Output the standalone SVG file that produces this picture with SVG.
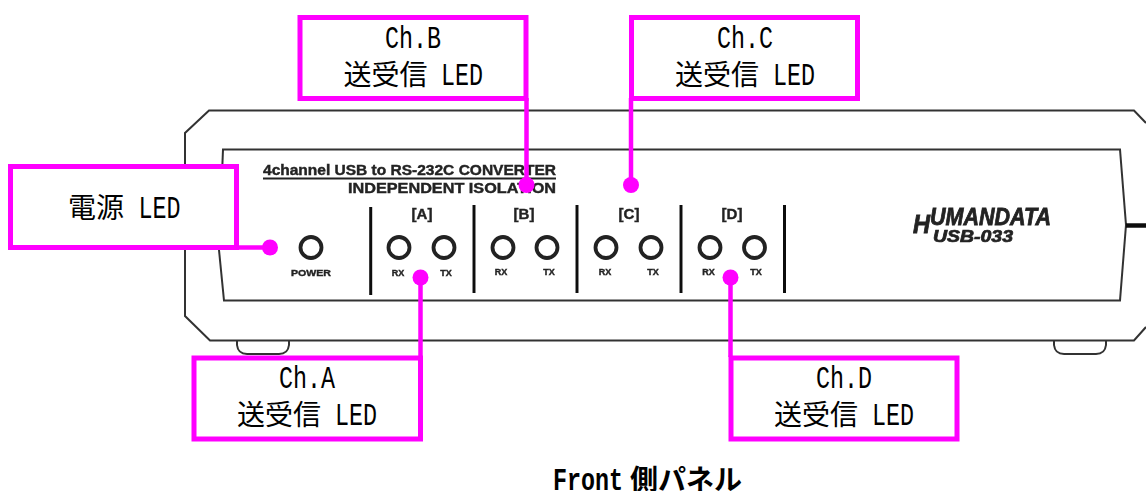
<svg xmlns="http://www.w3.org/2000/svg" width="1146" height="491" viewBox="0 0 1146 491">
<defs><filter id="soft" x="-5%" y="-5%" width="110%" height="110%"><feGaussianBlur stdDeviation="0.45"/></filter></defs>
<style>
.dev{fill:none;stroke:#333;stroke-width:2}
.sep{stroke:#111;stroke-width:3;fill:none}
.led{fill:#fff;stroke:#222;stroke-width:3.8}
.b{font-family:"Liberation Sans",Arial,sans-serif;font-weight:700;fill:#222;stroke:#222;stroke-width:.4}
.l{font-size:9px;text-anchor:middle}
.ch{font-size:15px;text-anchor:middle}
.box{fill:#fff;stroke:#ff00ff;stroke-width:5}
.lnk{stroke:#ff00ff;stroke-width:4.5;fill:none}
.dot{fill:#ff00ff}
.t{font-family:"Noto Sans CJK JP","Noto Sans CJK SC",sans-serif;font-size:28px;fill:#000}
.m{font-family:"Liberation Mono",monospace;font-size:32px}
</style>
<rect width="1146" height="491" fill="#fff"/>
<g id="device" filter="url(#soft)">
<path class="dev" d="M1146 123L1134 110.500H209L185 133V316L210 340.500H1134L1146 327"/>
<path class="dev" d="M223 149.500H1120L1126 225L1120 300.500H224L219 250L223 149.500Z"/>
<path d="M1126 225.500H1146" stroke="#111" stroke-width="4.500"/>
<path class="dev" stroke-width="1.500" d="M237 341V345Q238 354 247 354H279Q288 354 289 345V341"/>
<path class="dev" stroke-width="1.500" d="M1054 341V345Q1055 354 1064 354H1096Q1105 354 1106 345V341"/>
<text class="b" x="263" y="175" font-size="14" textLength="293" lengthAdjust="spacingAndGlyphs">4channel USB to RS-232C CONVERTER</text>
<path d="M263 178.500H556" stroke="#222" stroke-width="1.800"/>
<text class="b" x="348" y="193" font-size="14" textLength="208" lengthAdjust="spacingAndGlyphs">INDEPENDENT ISOLATION</text>
<path class="sep" d="M370.700 207V295M474 205V293M577 205V293M681 205V293M784.500 205V293"/>
<text class="b ch" x="422" y="219">[A]</text>
<text class="b ch" x="524" y="219">[B]</text>
<text class="b ch" x="629" y="219">[C]</text>
<text class="b ch" x="732" y="219">[D]</text>
<circle class="led" cx="311" cy="247.500" r="10.500"/>
<circle class="led" cx="399" cy="247.500" r="10.500"/>
<circle class="led" cx="444" cy="247.500" r="10.500"/>
<circle class="led" cx="503" cy="247.500" r="10.500"/>
<circle class="led" cx="547" cy="247.500" r="10.500"/>
<circle class="led" cx="606" cy="247.500" r="10.500"/>
<circle class="led" cx="651" cy="247.500" r="10.500"/>
<circle class="led" cx="710" cy="247.500" r="10.500"/>
<circle class="led" cx="754.500" cy="247.500" r="10.500"/>
<text class="b" x="291" y="276" font-size="9.500" textLength="40" lengthAdjust="spacingAndGlyphs">POWER</text>
<text class="b l" x="398" y="276">RX</text><text class="b l" x="446" y="276">TX</text>
<text class="b l" x="501" y="274.500">RX</text><text class="b l" x="549" y="274.500">TX</text>
<text class="b l" x="605" y="274.500">RX</text><text class="b l" x="653" y="274.500">TX</text>
<text class="b l" x="708.500" y="274.500">RX</text><text class="b l" x="756" y="274.500">TX</text>
<g font-style="italic">
<text class="b" x="913" y="233" font-size="25" textLength="17" lengthAdjust="spacingAndGlyphs" style="stroke-width:.8">H</text>
<text class="b" x="930" y="225" font-size="24" textLength="121" lengthAdjust="spacingAndGlyphs" style="stroke-width:.8">UMANDATA</text>
<text class="b" x="933" y="241.500" font-size="16" textLength="80" lengthAdjust="spacingAndGlyphs" style="stroke-width:.7">USB-033</text>
</g>
</g>
<g id="connectors">
<path class="lnk" d="M237 247.500H270"/>
<path class="lnk" d="M526.500 98V185"/>
<path class="lnk" d="M631 98V185"/>
<path class="lnk" d="M420.500 277.500V357"/>
<path class="lnk" d="M730.500 277.500V357"/>
<circle class="dot" cx="270" cy="247.500" r="8"/>
<circle class="dot" cx="526.500" cy="185" r="8"/>
<circle class="dot" cx="631" cy="185" r="8"/>
<circle class="dot" cx="420.500" cy="277.500" r="8"/>
<circle class="dot" cx="730.500" cy="277.500" r="8"/>
</g>
<g id="node-power">
<rect class="box" x="10.500" y="166.500" width="226" height="81"/>
<text class="t" x="68" y="218">電源 <tspan class="m" x="138.500" textLength="42" lengthAdjust="spacingAndGlyphs">LED</tspan></text>
</g>
<g id="node-ch-b">
<rect class="box" x="300" y="17.500" width="226" height="81"/>
<text class="t" x="385" y="48"><tspan class="m" textLength="56" lengthAdjust="spacingAndGlyphs">Ch.B</tspan></text>
<text class="t" x="343.500" y="85">送受信 <tspan class="m" x="441" textLength="42" lengthAdjust="spacingAndGlyphs">LED</tspan></text>
</g>
<g id="node-ch-c">
<rect class="box" x="631.500" y="17.500" width="226" height="81"/>
<text class="t" x="717" y="48"><tspan class="m" textLength="56" lengthAdjust="spacingAndGlyphs">Ch.C</tspan></text>
<text class="t" x="675" y="85">送受信 <tspan class="m" x="773" textLength="42" lengthAdjust="spacingAndGlyphs">LED</tspan></text>
</g>
<g id="node-ch-a">
<rect class="box" x="194" y="358" width="226.500" height="81"/>
<text class="t" x="279" y="388"><tspan class="m" textLength="56" lengthAdjust="spacingAndGlyphs">Ch.A</tspan></text>
<text class="t" x="237" y="425">送受信 <tspan class="m" x="335" textLength="42" lengthAdjust="spacingAndGlyphs">LED</tspan></text>
</g>
<g id="node-ch-d">
<rect class="box" x="731" y="358" width="226" height="81"/>
<text class="t" x="816" y="388"><tspan class="m" textLength="56" lengthAdjust="spacingAndGlyphs">Ch.D</tspan></text>
<text class="t" x="774" y="425">送受信 <tspan class="m" x="872" textLength="42" lengthAdjust="spacingAndGlyphs">LED</tspan></text>
</g>
<text class="t" x="553" y="490" font-weight="700"><tspan class="m" font-weight="700" textLength="70" lengthAdjust="spacingAndGlyphs">Front</tspan> <tspan x="630">側パネル</tspan></text>
</svg>
